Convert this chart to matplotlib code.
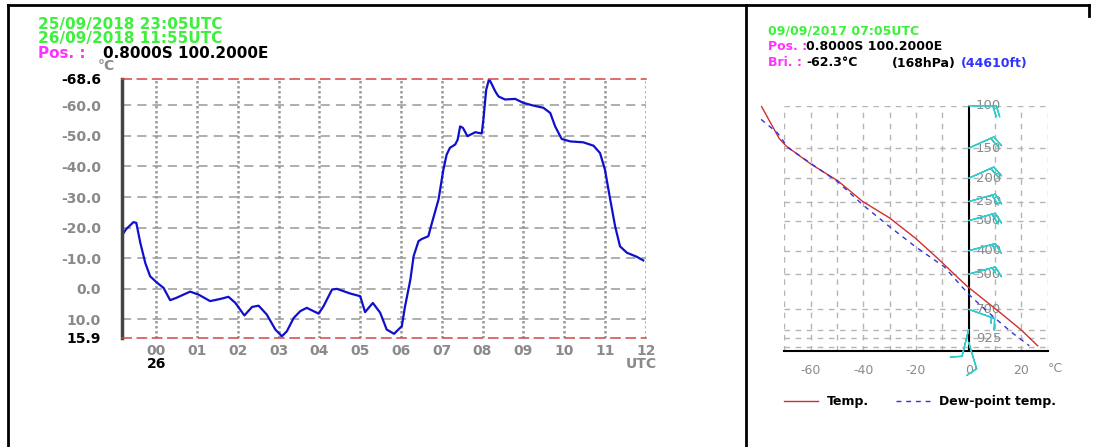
import matplotlib

matplotlib.use("Agg")
import matplotlib.pyplot as plt
from matplotlib.lines import Line2D

# left panel: brightness temperature, hours after 00 UTC on the 26th
hours = [-0.83, -0.74, -0.56, -0.49, -0.39, -0.27, -0.15, 0.02, 0.18, 0.34, 0.50, 0.83,
         1.04, 1.32, 1.57, 1.77, 1.94, 2.16, 2.35, 2.51, 2.71, 2.92, 3.08, 3.20, 3.37,
         3.53, 3.69, 3.98, 4.10, 4.31, 4.43, 4.75, 5.00, 5.12, 5.31, 5.49, 5.65, 5.83,
         6.02, 6.10, 6.23, 6.31, 6.43, 6.51, 6.67, 6.76, 6.92, 7.04, 7.12, 7.20, 7.33,
         7.39, 7.45, 7.52, 7.63, 7.82, 7.98, 8.02, 8.09, 8.16, 8.23, 8.31, 8.39, 8.55,
         8.80, 9.00, 9.25, 9.49, 9.66, 9.78, 9.94, 10.15, 10.47, 10.72, 10.88, 11.00,
         11.13, 11.25, 11.37, 11.54, 11.78, 11.94]
bright_temp = [-17.7, -19.5, -21.8, -21.6, -15.0, -8.5, -4.1, -2.0, -0.3, 3.7, 2.9, 0.9,
               1.9, 4.0, 3.3, 2.6, 4.6, 8.7, 5.9, 5.5, 8.4, 13.3, 15.5, 13.9, 9.5,
               7.3, 6.2, 8.1, 5.7, 0.2, 0.0, 1.5, 2.4, 7.6, 4.6, 7.8, 13.3, 14.7,
               12.2, 5.7, -3.0, -10.7, -15.6, -16.3, -17.2, -21.6, -29.2, -39.0, -43.9, -46.1, -47.2,
               -48.8, -53.1, -52.6, -49.9, -51.2, -50.8, -55.3, -65.1, -68.6, -66.8, -64.6, -62.9, -61.9,
               -62.1, -60.8, -59.9, -59.2, -57.5, -53.1, -49.0, -48.2, -47.9, -46.8, -44.4, -39.0,
               -29.2, -20.5, -13.9, -11.8, -10.5, -9.3]
hour_ticks = list(range(13))
hour_labels = [f"{h:02d}" for h in hour_ticks]
temp_ticks = [-68.6, -60.0, -50.0, -40.0, -30.0, -20.0, -10.0, 0.0, 10.0, 15.9]
temp_min, temp_max = -68.6, 15.9

# right panel: sounding
temp_p = [101, 137, 147, 175, 205, 250, 292, 355, 430, 516, 564, 641, 728, 852, 992]
temp_t = [-78.6, -71.9, -69.3, -59.8, -49.7, -40.2, -30.1, -20.2, -11.8, -4.2, -0.4, 6.0, 12.3, 19.9, 26.2]
dew_p = [114, 130, 149, 174, 207, 258, 313, 385, 467, 564, 620, 717, 869, 992]
dew_t = [-78.8, -72.5, -68.7, -59.8, -49.7, -40.2, -30.8, -20.2, -9.2, -2.6, 0.9, 7.2, 16.1, 23.0]
p_grid = [100, 150, 200, 250, 300, 400, 500, 700, 850, 925, 1000]
p_labels = [100, 150, 200, 250, 300, 400, 500, 700, 925]
barb_p = [100, 150, 200, 250, 300, 400, 500, 700, 850, 960]
barb_u = [-20, -18, -18, -18, -18, -15, -15, -14, 3, -3]
barb_v = [0, -8, -8, -5, -5, -4, -4, 5, 12, 10]

GREEN = "#3cf03c"
MAGENTA = "#ff33ff"
GRAY = "#8a8a8a"

fig = plt.figure(figsize=(10.98, 4.47), dpi=100)
W, H = 1098, 447


def fx(px):
    return px / W


def fy(py):
    return 1 - py / H


# outer frame
for xs, ys in [((8, 1089), (5, 5)), ((8, 8), (5, 447)), ((746, 746), (5, 447)), ((1089, 1089), (5, 16))]:
    fig.add_artist(Line2D([fx(x) for x in xs], [fy(y) for y in ys], color="black", lw=2))

# ---- left panel ----
ax = fig.add_axes([fx(122), fy(337.5), fx(645.7 - 122), (337.5 - 79) / H])
ax.plot(hours, bright_temp, color="#1010cc", lw=1.6)
ax.set_xlim(-0.84, 12)
ax.set_ylim(temp_max, temp_min)
ax.set_xticks(hour_ticks)
ax.set_xticklabels(hour_labels)
ax.set_yticks(temp_ticks)
ax.set_yticklabels([f"{t:.1f}" for t in temp_ticks])
ax.tick_params(length=0, labelsize=10)
ax.tick_params(axis="y", pad=15)
ax.tick_params(axis="x", pad=5)
for lab in ax.get_xticklabels():
    lab.set_color(GRAY)
    lab.set_fontweight("bold")
for i, lab in enumerate(ax.get_yticklabels()):
    lab.set_fontweight("bold")
    lab.set_color("black" if i in (0, len(temp_ticks) - 1) else GRAY)
for t in temp_ticks[1:-1]:
    ax.axhline(t, color="#999999", lw=1.1, ls=(0, (6, 4)), zorder=0)
for h in hour_ticks:
    ax.axvline(h, color="#999999", lw=1.8, ls=(0, (1, 1)), zorder=0)
for side in ("top", "bottom"):
    ax.spines[side].set_color("#d04545")
    ax.spines[side].set_linestyle((0, (6, 4)))
    ax.spines[side].set_linewidth(1.1)
ax.spines["right"].set_visible(False)
ax.spines["left"].set_color("#444444")
ax.spines["left"].set_linewidth(2.5)
ax.text(0, -0.1025, "26", transform=ax.get_xaxis_transform(), ha="center", va="center",
        fontsize=10, fontweight="bold", color="black")
ax.text(11.9, -0.1025, "UTC", transform=ax.get_xaxis_transform(), ha="center", va="center",
        fontsize=10, fontweight="bold", color=GRAY)
fig.text(fx(106), fy(66), "°C", ha="center", va="center", fontsize=10, color=GRAY, fontweight="bold")

fig.text(fx(38), fy(25), "25/09/2018 23:05UTC", fontsize=11, fontweight="bold", color=GREEN, va="center")
fig.text(fx(38), fy(39), "26/09/2018 11:55UTC", fontsize=11, fontweight="bold", color=GREEN, va="center")
fig.text(fx(38), fy(53), "Pos. :", fontsize=11, fontweight="bold", color=MAGENTA, va="center")
fig.text(fx(103), fy(53), "0.8000S 100.2000E", fontsize=11, fontweight="bold", color="black", va="center")

# ---- right panel ----
ax2 = fig.add_axes([fx(784.3), fy(351), fx(263.4), (351 - 105.7) / H])
ax2.set_yscale("log")
ax2.set_xlim(-70, 30)
ax2.set_ylim(1043, 100)
ax2.yaxis.set_major_locator(matplotlib.ticker.NullLocator())
ax2.yaxis.set_minor_locator(matplotlib.ticker.NullLocator())
ax2.set_xticks([-60, -40, -20, 0, 20])
ax2.set_xticklabels(["-60", "-40", "-20", "0", "20"])
ax2.tick_params(length=0, labelsize=9, labelcolor=GRAY, pad=9)
for x in range(-70, 31, 10):
    ax2.axvline(x, color="#b5b5b5", lw=1, ls=(0, (4, 4)), zorder=0)
for p in p_grid:
    ax2.axhline(p, color="#b5b5b5", lw=1, ls=(0, (4, 4)), zorder=0)
for side in ("top", "left", "right"):
    ax2.spines[side].set_visible(False)
ax2.spines["bottom"].set_linewidth(1.5)
ax2.axvline(0, color="black", lw=1.5, zorder=1)

ax2.barbs([0] * len(barb_p), barb_p, barb_u, barb_v, length=6.3, color="#33cccc",
          linewidth=1, clip_on=False, zorder=3)
for p in p_labels:
    ax2.text(2.8, p, str(p), ha="left", va="center", fontsize=9.5, color=GRAY, zorder=2)

t_line, = ax2.plot(temp_t, temp_p, color="#d03030", lw=1, clip_on=False, zorder=4, label="Temp.")
d_line, = ax2.plot(dew_t, dew_p, color="#3333dd", lw=1, ls=(0, (3.5, 3.5)), clip_on=False, zorder=4,
                   label="Dew-point temp.")
fig.text(fx(1055), fy(369), "°C", ha="center", va="center", fontsize=9, color=GRAY)

ax2.legend(handles=[t_line, d_line], ncol=2, frameon=False, loc="center left",
           bbox_to_anchor=(fx(773), fy(401.7)), bbox_transform=fig.transFigure,
           handlelength=2.7, handletextpad=0.7, columnspacing=2.2,
           prop={"weight": "bold", "size": 9})

fs = 9
fig.text(fx(768), fy(31), "09/09/2017 07:05UTC", fontsize=fs, fontweight="bold", color=GREEN, va="center")
fig.text(fx(768), fy(47), "Pos. :", fontsize=fs, fontweight="bold", color=MAGENTA, va="center")
fig.text(fx(806), fy(47), "0.8000S 100.2000E", fontsize=fs, fontweight="bold", color="black", va="center")
fig.text(fx(768), fy(63), "Bri. :", fontsize=fs, fontweight="bold", color=MAGENTA, va="center")
fig.text(fx(806), fy(63), "-62.3°C", fontsize=fs, fontweight="bold", color="black", va="center")
fig.text(fx(892), fy(63), "(168hPa)", fontsize=fs, fontweight="bold", color="black", va="center")
fig.text(fx(961), fy(63), "(44610ft)", fontsize=fs, fontweight="bold", color="#3333ff", va="center")

fig.savefig("out.png", dpi=100)
